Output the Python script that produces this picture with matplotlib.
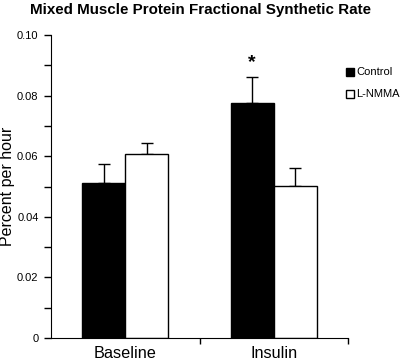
import matplotlib
matplotlib.use("Agg")
import matplotlib.pyplot as plt
from matplotlib.patches import Rectangle
import numpy as np

plt.rcParams['font.family'] = ['Liberation Sans', 'DejaVu Sans']

categories = ["Baseline", "Insulin"]
series_names = ["Control", "L-NMMA"]
control = [0.0513, 0.0777]
control_err = [0.0061, 0.0083]
lnmma = [0.0606, 0.0502]
lnmma_err = [0.0039, 0.0059]
ytick_vals = [0, 0.02, 0.04, 0.06, 0.08, 0.10]
ytick_labels = ["0", "0.02", "0.04", "0.06", "0.08", "0.10"]

fig = plt.figure(figsize=(4.0, 3.62), dpi=100)
ax = fig.add_axes([0.1275, 0.0663, 0.7425, 0.837])

centers = np.array([0.5, 1.5])
w = 0.29
off = 0.145
ax.bar(centers - off, control, width=w, color='black', edgecolor='black', linewidth=1, zorder=2)
ax.bar(centers + off, lnmma, width=w, color='white', edgecolor='black', linewidth=1, zorder=2)
ax.errorbar(centers - off, control, yerr=[np.zeros(2), control_err], fmt='none',
            ecolor='black', elinewidth=1, capsize=4, capthick=1, zorder=1)
ax.errorbar(centers + off, lnmma, yerr=[np.zeros(2), lnmma_err], fmt='none',
            ecolor='black', elinewidth=1, capsize=4, capthick=1, zorder=1)

ax.set_xlim(0, 2)
ax.set_ylim(0, 0.10)
ax.spines['top'].set_visible(False)
ax.spines['right'].set_visible(False)

ax.set_yticks(ytick_vals)
ax.set_yticklabels(ytick_labels, fontsize=8)
ax.set_yticks(np.arange(0.01, 0.10, 0.02), minor=True)
ax.tick_params(axis='y', which='both', direction='out', length=5, width=1, pad=4)

ax.set_xticks([1, 2])
ax.set_xticklabels([])
ax.set_xticks(centers, minor=True)
ax.set_xticklabels(categories, minor=True, fontsize=11.7)
ax.tick_params(axis='x', which='major', direction='out', length=4, width=1)
ax.tick_params(axis='x', which='minor', length=0, pad=6)

ax.set_ylabel("Percent per hour", fontsize=11.5, va='center')
ax.yaxis.set_label_coords(-0.148, 0.5)
fig.text(0.5, 0.972, "Mixed Muscle Protein Fractional Synthetic Rate",
         ha='center', va='center', fontsize=10.9, fontweight='bold')

# significance star
ax.text(centers[1] - off, control[1] + control_err[1] + 0.002, "*",
        ha='center', va='bottom', fontsize=14, fontweight='bold')

# legend
for i, (name, fc) in enumerate(zip(series_names, ['black', 'white'])):
    yy = 0.801 - i * 0.061
    fig.patches.append(Rectangle((0.865, yy - 0.012), 0.02, 0.024, transform=fig.transFigure,
                                 facecolor=fc, edgecolor='black', linewidth=1))
    fig.text(0.89, yy, name, ha='left', va='center', fontsize=8)

fig.savefig("out.png", dpi=100)
